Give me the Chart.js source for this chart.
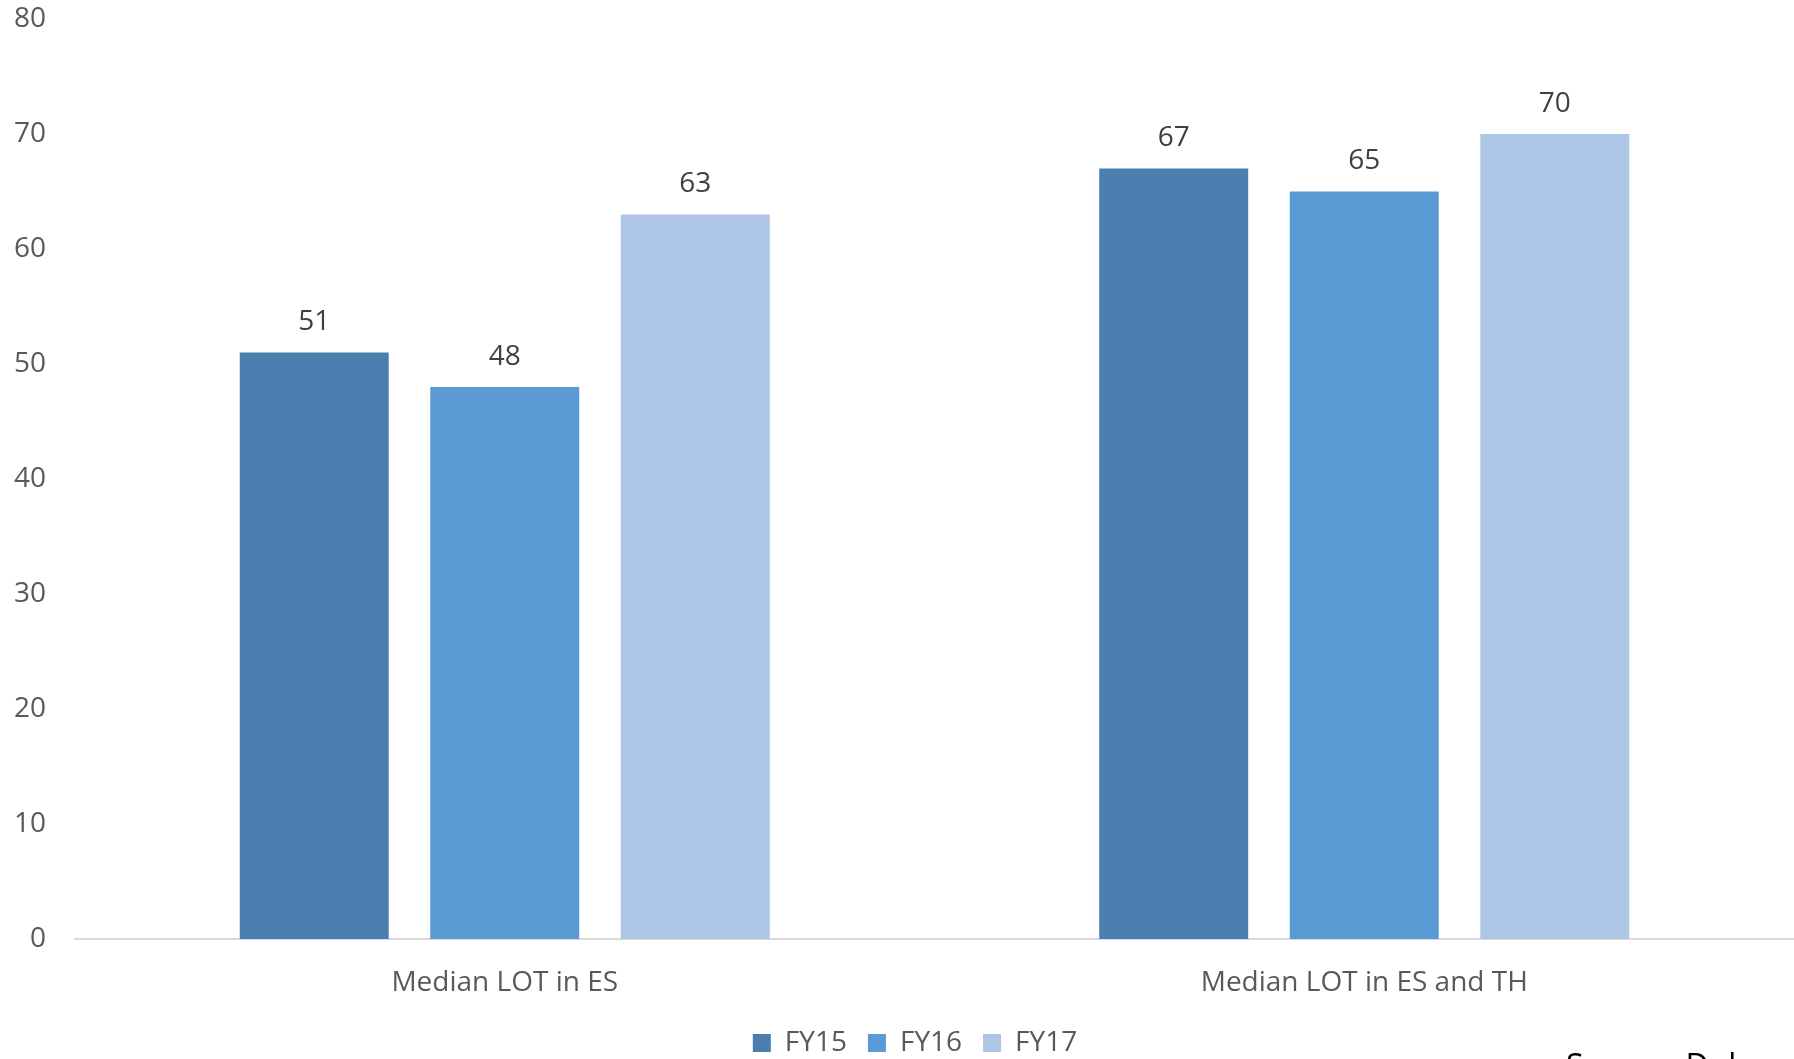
<!DOCTYPE html>
<html>
<head>
<meta charset="utf-8">
<script src="https://cdn.jsdelivr.net/npm/chart.js@4.4.1/dist/chart.umd.min.js"></script>
<style>
  html, body { margin: 0; padding: 0; background: #fff; }
  #wrap { width: 1794px; height: 1059px; }
</style>
</head>
<body>
<div id="wrap"><canvas id="chart" width="1794" height="1059"></canvas></div>
<script>
const categories = ["Median LOT in ES", "Median LOT in ES and TH"];
const seriesNames = ["FY15", "FY16", "FY17"];
const fy15 = [51, 67];
const fy16 = [48, 65];
const fy17 = [63, 70];
const yTicks = [0, 10, 20, 30, 40, 50, 60, 70, 80];

const COLORS = ["#4a7eaf", "#5b9bd5", "#adc6e5"];
const FONT = "'Open Sans', 'DejaVu Sans', sans-serif";

// value labels above each bar
const valueLabels = {
    id: "valueLabels",
    afterDatasetsDraw(chart) {
        const ctx = chart.ctx;
        ctx.save();
        ctx.font = "28px " + FONT;
        ctx.fillStyle = "#404040";
        ctx.textAlign = "center";
        ctx.textBaseline = "middle";
        chart.data.datasets.forEach(function(ds, i) {
            chart.getDatasetMeta(i).data.forEach(function(bar, j) {
                ctx.fillText(String(ds.data[j]), bar.x, bar.y - 30);
            });
        });
        ctx.restore();
    }
};

// legend sits a little right of the canvas centre in the original
const legendShift = {
    id: "legendShift",
    afterLayout(chart) {
        if (chart.legend) {
            chart.legend.left += 18;
            chart.legend.right += 18;
        }
    }
};

// source note, cut off at the bottom right like the original
const sourceNote = {
    id: "sourceNote",
    afterDraw(chart) {
        const ctx = chart.ctx;
        ctx.save();
        ctx.font = "32px " + FONT;
        ctx.fillStyle = "#000";
        ctx.textAlign = "left";
        ctx.textBaseline = "alphabetic";
        ctx.fillText("Source: Duke", 1566, 1077);
        ctx.restore();
    }
};

new Chart(document.getElementById("chart"), {
    type: "bar",
    data: {
        labels: categories,
        datasets: [
            { label: seriesNames[0], data: fy15, backgroundColor: COLORS[0] },
            { label: seriesNames[1], data: fy16, backgroundColor: COLORS[1] },
            { label: seriesNames[2], data: fy17, backgroundColor: COLORS[2] }
        ]
    },
    options: {
        responsive: false,
        animation: false,
        layout: { padding: { top: 19, right: 0, bottom: -8, left: 0 } },
        datasets: { bar: { categoryPercentage: 0.665, barPercentage: 0.782 } },
        scales: {
            x: {
                afterFit: function(scale) { scale.height = 69; },
                grid: { display: false, drawTicks: false },
                border: { display: true, color: "#d9d9d9", width: 2 },
                ticks: { color: "#595959", font: { family: FONT, size: 28 }, padding: 27 }
            },
            y: {
                min: 0,
                max: 80,
                afterBuildTicks: function(scale) {
                    scale.ticks = yTicks.map(function(v) { return { value: v }; });
                },
                afterFit: function(scale) {
                    scale.width = 75;
                    scale.paddingTop = 0;
                    scale.paddingBottom = 0;
                },
                grid: { display: false, drawTicks: false },
                border: { display: false },
                ticks: { color: "#595959", font: { family: FONT, size: 28 }, padding: 29 }
            }
        },
        plugins: {
            legend: {
                position: "bottom",
                labels: {
                    color: "#595959",
                    font: { family: FONT, size: 28 },
                    boxWidth: 18,
                    boxHeight: 18,
                    padding: 21
                }
            },
            tooltip: { enabled: false }
        }
    },
    plugins: [valueLabels, legendShift, sourceNote]
});
</script>
</body>
</html>
